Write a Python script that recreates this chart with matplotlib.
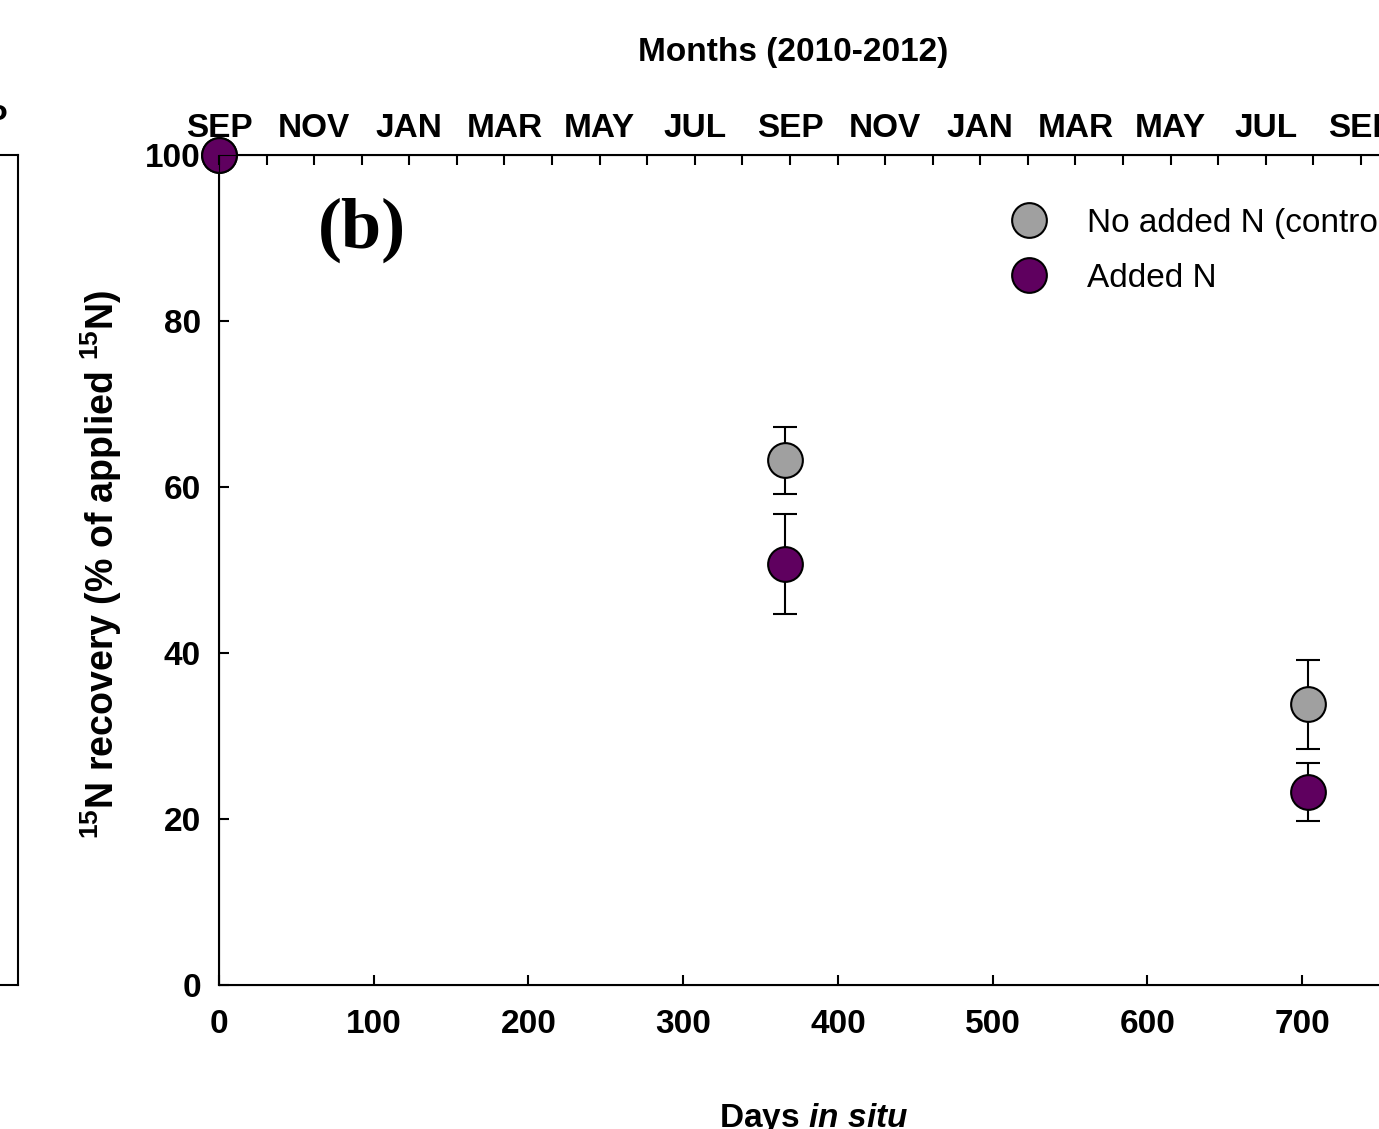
import matplotlib
matplotlib.use('Agg')
import matplotlib.pyplot as plt
from matplotlib.lines import Line2D
import numpy as np

plt.rcParams['font.family'] = ['Liberation Sans', 'DejaVu Sans']
plt.rcParams['mathtext.fontset'] = 'custom'
plt.rcParams['mathtext.default'] = 'regular'
plt.rcParams['mathtext.it'] = 'Liberation Sans:italic:bold'

# data
days = [0, 366, 704]
control_mean = [100, 63.2, 33.8]
control_err = [0, 4.0, 5.4]
added_mean = [100, 50.7, 23.2]
added_err = [0, 6.0, 3.5]

month_names = ['SEP', 'OCT', 'NOV', 'DEC', 'JAN', 'FEB', 'MAR', 'APR', 'MAY', 'JUN', 'JUL', 'AUG',
               'SEP', 'OCT', 'NOV', 'DEC', 'JAN', 'FEB', 'MAR', 'APR', 'MAY', 'JUN', 'JUL', 'AUG', 'SEP']
month_len = 30.75  # days per month tick on the top axis

x_ticks = [0, 100, 200, 300, 400, 500, 600, 700]
y_ticks = [0, 20, 40, 60, 80, 100]

grey = '#a0a0a0'
purple = '#5f005f'
W, H = 1379, 1129

fig = plt.figure(figsize=(W / 100, H / 100), dpi=100)

# remnant of panel (a) on the left edge
axl = fig.add_axes([-0.3, 144 / H, 0.3 + 18 / W, 830 / H])
axl.set_xticks([])
axl.set_yticks([])
axl.spines['left'].set_visible(False)
for s in ['top', 'right', 'bottom']:
    axl.spines[s].set_linewidth(1.5)
fig.text(8 / W, 1 - 119 / H, 'SEP', ha='right', va='center', fontsize=24, fontweight='bold')

ax = fig.add_axes([219 / W, 144 / H, (1395 - 219) / W, 830 / H])
ax.set_xlim(0, 760)
ax.set_ylim(0, 100)

ekw = dict(fmt='o', markersize=25, markeredgecolor='black', markeredgewidth=1.5,
           ecolor='black', elinewidth=1.5, capsize=8.5, capthick=1.5, clip_on=False)
ax.errorbar(days, control_mean, yerr=control_err, markerfacecolor=grey, zorder=5, **ekw)
ax.errorbar(days, added_mean, yerr=added_err, markerfacecolor=purple, zorder=6, **ekw)

ax.set_xticks(x_ticks)
ax.set_yticks(y_ticks)
ax.tick_params(axis='both', direction='in', length=7, width=1.5, labelsize=24, pad=13)
ax.tick_params(axis='x', pad=17)
for lab in ax.get_xticklabels() + ax.get_yticklabels():
    lab.set_fontweight('bold')
for s in ax.spines.values():
    s.set_linewidth(1.5)

# top month axis
ax2 = ax.twiny()
ax2.set_xlim(ax.get_xlim())
month_pos = np.arange(len(month_names)) * month_len
ax2.set_xticks(month_pos)
ax2.set_xticklabels([m if i % 2 == 0 else '' for i, m in enumerate(month_names)],
                    fontsize=24, fontweight='bold')
ax2.tick_params(axis='x', direction='in', length=7, width=1.5, pad=8)

fig.text(793 / W, 1 - 52 / H, 'Months (2010-2012)', ha='center', va='center',
         fontsize=24, fontweight='bold')
fig.text(814 / W, 1 - 1119 / H, r'Days $\it{in\ situ}$', ha='center', va='center',
         fontsize=24, fontweight='bold')
fig.text(101 / W, 1 - 565 / H, r'$^{15}$N recovery (% of applied $^{15}$N)', rotation=90,
         ha='center', va='center', fontsize=27, fontweight='bold')
fig.text(362 / W, 1 - 230 / H, '(b)', ha='center', va='center', fontsize=52,
         fontweight='bold', family='Liberation Serif')

handles = [Line2D([], [], linestyle='none', marker='o', markersize=25, markerfacecolor=grey,
                  markeredgecolor='black', markeredgewidth=1.5),
           Line2D([], [], linestyle='none', marker='o', markersize=25, markerfacecolor=purple,
                  markeredgecolor='black', markeredgewidth=1.5)]
ax.legend(handles, ['No added N (control)', 'Added N'], loc='upper left',
          bbox_to_anchor=(1012 / W, 1 - 208 / H), bbox_transform=fig.transFigure,
          frameon=False, fontsize=24, handlelength=1.0, handletextpad=1.25, labelspacing=0.72,
          borderpad=0, borderaxespad=0)

fig.savefig('out.png', dpi=100)
